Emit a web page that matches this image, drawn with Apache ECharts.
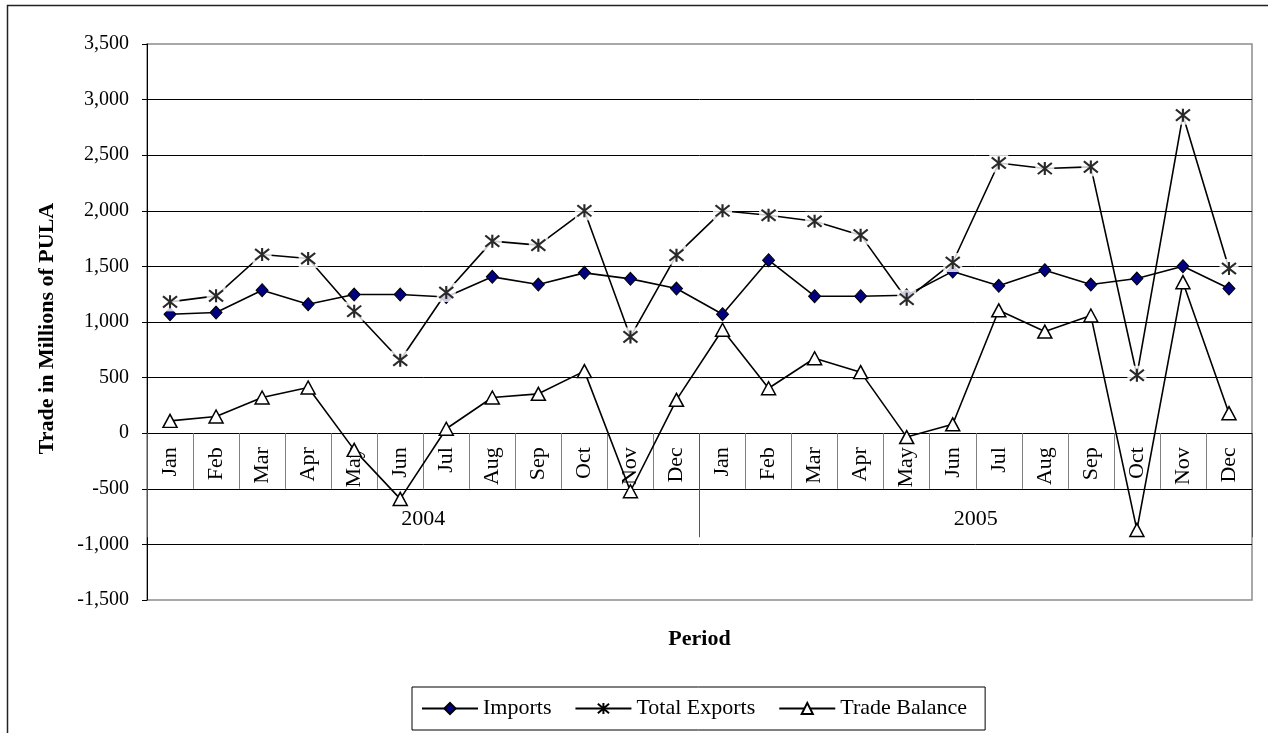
<!DOCTYPE html>
<html>
<head>
<meta charset="utf-8">
<title>Trade in Millions of PULA</title>
<script src="https://cdn.jsdelivr.net/npm/echarts@6/dist/echarts.min.js"></script>
<style>
  html, body { margin: 0; padding: 0; background: #fff; }
  #chart { width: 1268px; height: 733px; }
</style>
</head>
<body>
<div id="chart"></div>
<script>
// category labels
var months = ['Jan', 'Feb', 'Mar', 'Apr', 'May', 'Jun', 'Jul', 'Aug', 'Sep', 'Oct', 'Nov', 'Dec',
              'Jan', 'Feb', 'Mar', 'Apr', 'May', 'Jun', 'Jul', 'Aug', 'Sep', 'Oct', 'Nov', 'Dec'];
var years = ['2004', '2005'];

// values (millions of pula)
var imports = [1070, 1085, 1286, 1160, 1247, 1247, 1225, 1406, 1337, 1442, 1388, 1301,
               1070, 1556, 1232, 1232, 1240, 1455, 1325, 1466, 1337, 1391, 1502, 1301];
var totalExports = [1181, 1235, 1607, 1571, 1097, 656, 1265, 1727, 1691, 2000, 866, 1601,
                    2000, 1960, 1906, 1781, 1205, 1535, 2430, 2380, 2395, 521, 2860, 1481];
var tradeBalance = [111, 150, 321, 411, -150, -591, 40, 321, 354, 558, -522, 300,
                    930, 404, 674, 549, -35, 80, 1105, 914, 1058, -870, 1358, 180];

// value axis ticks
var yMin = -1500;
var yMax = 3500;
var yStep = 500;

var serif = '"Liberation Serif", "Times New Roman", serif';
var starPath = 'path://M0,0L12,12M12,0L0,12M6,-1L6,13';

var gridTop = 44, gridHeight = 556;
// the category axes sit on the zero line, Excel style
var zeroOffset = -gridHeight * (0 - yMin) / (yMax - yMin);

function thousands(v) {
  return String(v).replace(/\B(?=(\d{3})+(?!\d))/g, ',');
}

var chart = echarts.init(document.getElementById('chart'));

var option = {
  animation: false,
  backgroundColor: '#fff',
  graphic: [{
    type: 'rect',
    silent: true,
    z: -10,
    shape: { x: 7.5, y: 5.5, width: 1400, height: 900 },
    style: { fill: 'none', stroke: '#222', lineWidth: 1.5 }
  }],
  grid: {
    left: 147,
    top: gridTop,
    width: 1105,
    height: gridHeight,
    show: true,
    borderColor: '#8c8c8c',
    borderWidth: 1.5,
    backgroundColor: 'transparent'
  },
  legend: {
    data: ['Imports', 'Total Exports', 'Trade Balance'],
    left: 412,
    top: 687,
    itemWidth: 56,
    itemHeight: 14,
    itemGap: 23,
    padding: [10, 18, 10, 9],
    borderColor: '#000',
    borderWidth: 1,
    borderRadius: 0,
    textStyle: { fontFamily: serif, fontSize: 22, color: '#000', lineHeight: 23 }
  },
  xAxis: [
    {
      type: 'category',
      data: months,
      position: 'bottom',
      offset: zeroOffset,
      boundaryGap: true,
      axisLine: { show: true, onZero: false, lineStyle: { color: '#000', width: 1 } },
      axisTick: { show: true, interval: 0, length: 55.6, lineStyle: { color: '#808080', width: 1 } },
      axisLabel: {
        interval: 0, rotate: 90, margin: 14,
        fontFamily: serif, fontSize: 22, color: '#000'
      },
      splitLine: { show: false }
    },
    {
      type: 'category',
      data: years,
      position: 'bottom',
      offset: zeroOffset,
      boundaryGap: true,
      axisLine: { show: false, onZero: false },
      axisTick: { show: true, interval: 0, length: 104, lineStyle: { color: '#555', width: 1 } },
      axisLabel: { interval: 0, margin: 75, fontFamily: serif, fontSize: 22, color: '#000' },
      splitLine: { show: false },
      name: 'Period',
      nameLocation: 'middle',
      nameGap: 195,
      nameTextStyle: { fontFamily: serif, fontSize: 22, fontWeight: 'bold', color: '#000' }
    }
  ],
  yAxis: {
    type: 'value',
    min: yMin,
    max: yMax,
    interval: yStep,
    axisLine: { show: true, lineStyle: { color: '#000', width: 1 } },
    axisTick: { show: true, length: 5, lineStyle: { color: '#000' } },
    axisLabel: { formatter: thousands, margin: 18, fontFamily: serif, fontSize: 20, color: '#000' },
    splitLine: { show: true, showMinLine: false, showMaxLine: false, lineStyle: { color: '#000', width: 1 } },
    name: 'Trade in Millions of PULA',
    nameLocation: 'middle',
    nameGap: 89,
    nameTextStyle: {
      fontFamily: serif, fontSize: 22, fontWeight: 'bold', color: '#000',
      padding: [0, 13, 0, 0]
    }
  },
  series: [
    {
      name: 'Imports',
      type: 'line',
      data: imports,
      z: 2,
      showAllSymbol: true,
      symbol: 'diamond',
      symbolSize: [12, 13],
      itemStyle: { color: '#000080', borderColor: '#000', borderWidth: 1 },
      lineStyle: { color: '#000', width: 1.6 },
      emphasis: { disabled: true }
    },
    {
      name: 'Total Exports',
      type: 'line',
      data: totalExports,
      z: 2,
      showAllSymbol: true,
      symbol: starPath,
      symbolSize: [14, 13],
      itemStyle: { color: '#000', borderColor: '#000', borderWidth: 2 },
      lineStyle: { color: '#000', width: 1.6 },
      emphasis: { disabled: true }
    },
    {
      // white patches that break the lines around the export markers
      name: 'exportsMask',
      type: 'scatter',
      data: totalExports,
      z: 3,
      silent: true,
      symbol: 'rect',
      symbolSize: 19,
      itemStyle: { color: '#fff' },
      emphasis: { disabled: true }
    },
    {
      name: 'exportsMarks',
      type: 'scatter',
      data: totalExports,
      z: 4,
      silent: true,
      symbol: starPath,
      symbolSize: [14, 13],
      itemStyle: { color: '#000', borderColor: '#000', borderWidth: 2 },
      emphasis: { disabled: true }
    },
    {
      name: 'Trade Balance',
      type: 'line',
      data: tradeBalance,
      z: 5,
      showAllSymbol: true,
      symbol: 'triangle',
      symbolSize: [14, 13],
      itemStyle: { color: '#fff', borderColor: '#000', borderWidth: 1.5 },
      lineStyle: { color: '#000', width: 1.6 },
      emphasis: { disabled: true }
    }
  ]
};

chart.setOption(option);
</script>
</body>
</html>
